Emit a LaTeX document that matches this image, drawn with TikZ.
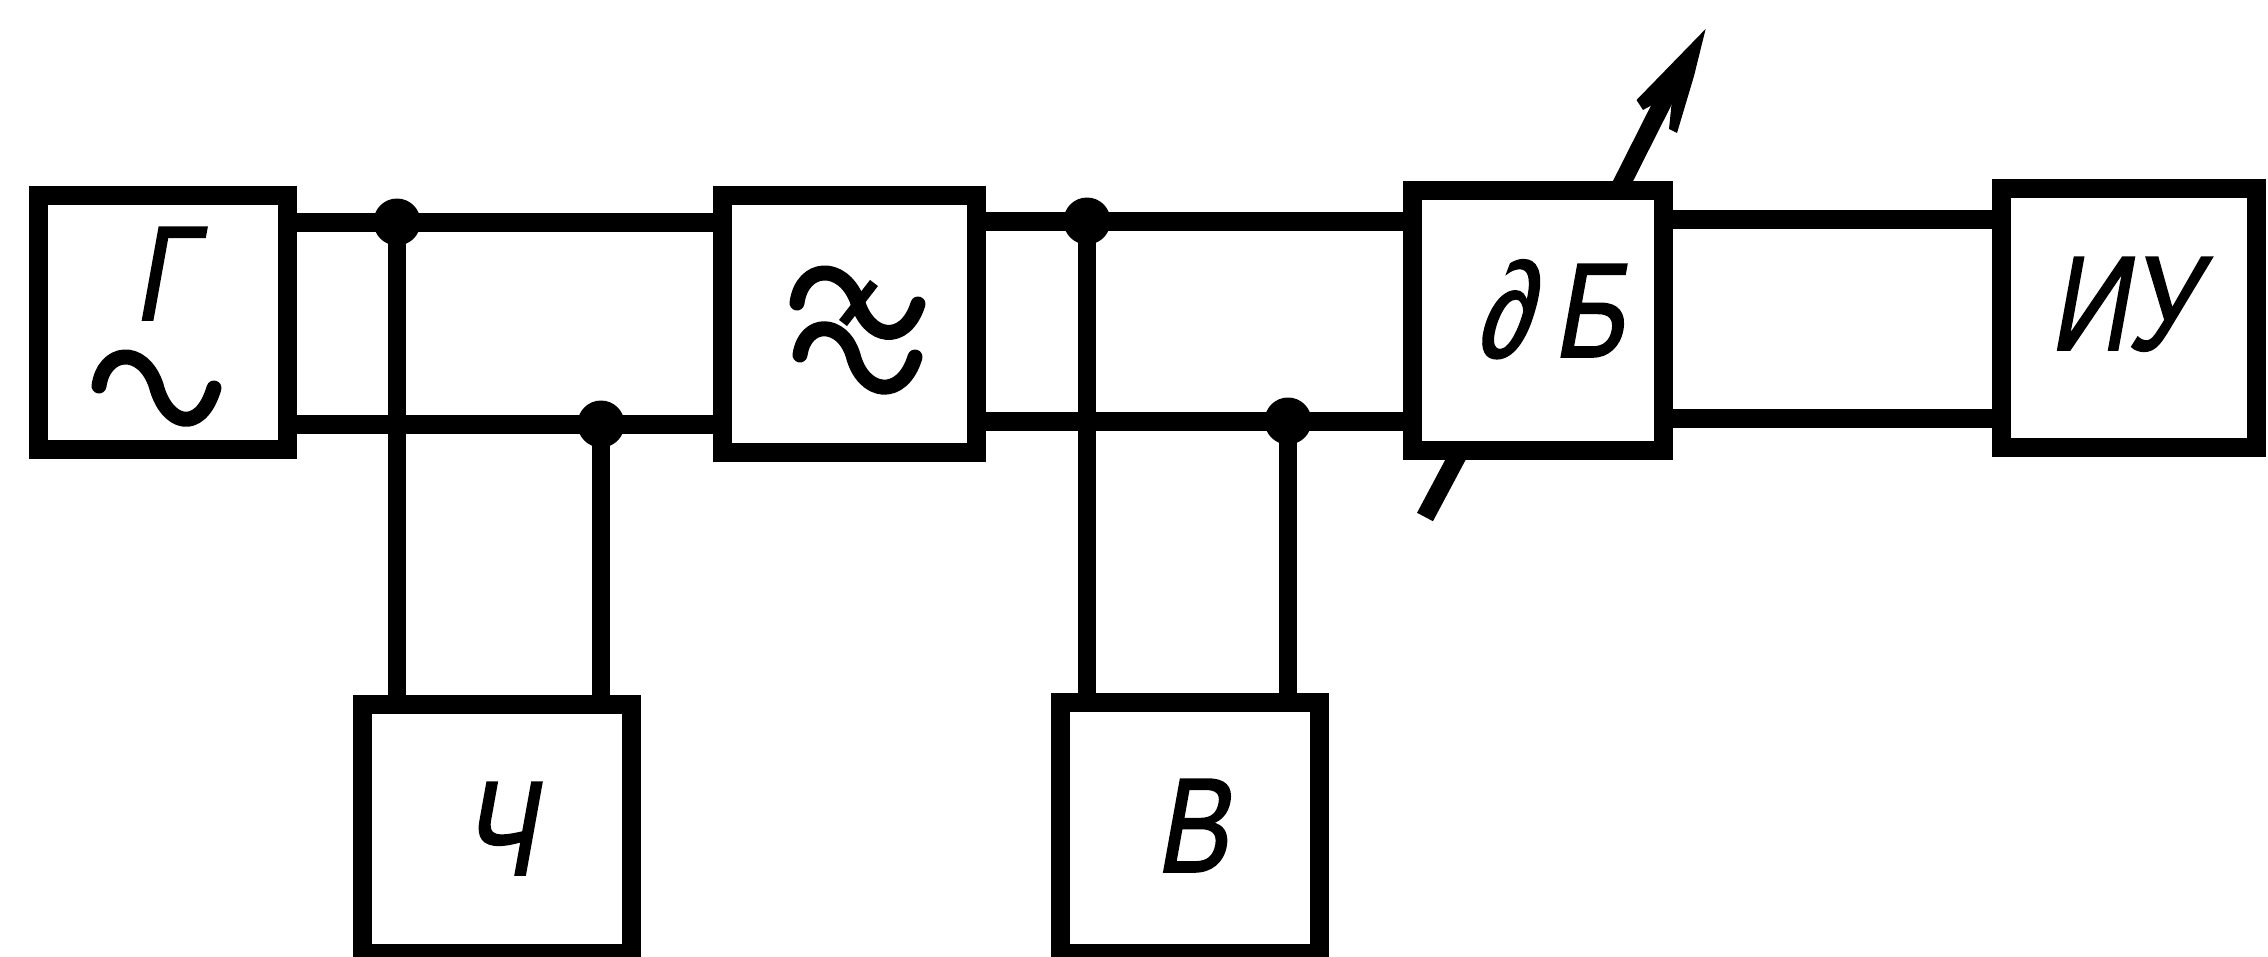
\documentclass[tikz,border=0pt]{standalone}
\usepackage{fontspec}
\newfontfamily\gost[FakeSlant=0.18,FakeStretch=0.8,FakeBold=1.2]{Liberation Sans}
\tikzset{
  blockbox/.style={draw=black,fill=white,line width=19pt,inner sep=0pt,minimum width=#1},
  wire/.style={line width=19pt,draw=black},
  stem/.style={line width=18pt,draw=black},
  dotnode/.style={circle,fill=black,draw=none,minimum size=47pt,inner sep=0pt},
  lab/.style={anchor=base,inner sep=0pt,font=\gost\fontsize{135}{135}\selectfont},
  wave/.style={line width=15pt,draw=black,line cap=round,line join=round},
}
\begin{document}
\begin{tikzpicture}[x=1pt,y=-1pt]
\useasboundingbox (0,0) rectangle (2268,956);
% junctions
\coordinate (j1) at (397,222);
\coordinate (j2) at (601,424);
\coordinate (j3) at (1087,221);
\coordinate (j4) at (1288,421);
% blocks
\node[blockbox=249pt,minimum height=254pt] (G) at (162.5,322) {};
\node[blockbox=254pt,minimum height=257pt] (F) at (849,323.5) {};
\node[blockbox=251pt,minimum height=260pt] (D) at (1537.5,320) {};
\node[blockbox=255pt,minimum height=259pt] (I) at (2128.5,317.5) {};
\node[blockbox=269pt,minimum height=249pt] (C) at (496.5,829) {};
\node[blockbox=259pt,minimum height=251pt] (V) at (1189.5,828) {};
% connectors
\draw[wire] (G.east |- j1) -- (j1) -- (F.west |- j1);
\draw[wire] (G.east |- j2) -- (j2) -- (F.west |- j2);
\draw[wire] (F.east |- j3) -- (j3) -- (D.west |- j3);
\draw[wire] (F.east |- j4) -- (j4) -- (D.west |- j4);
\coordinate (k1) at (D.east |- 0,219);
\coordinate (k2) at (D.east |- 0,418);
\draw[wire] (k1) -- (I.west |- k1);
\draw[wire] (k2) -- (I.west |- k2);
\draw[stem] (j1) -- (j1 |- C.north);
\draw[stem] (j2) -- (j2 |- C.north);
\draw[stem] (j3) -- (j3 |- V.north);
\draw[stem] (j4) -- (j4 |- V.north);
\node[dotnode] (d1) at (j1) {};
\node[dotnode] (d2) at (j2) {};
\node[dotnode] (d3) at (j3) {};
\node[dotnode] (d4) at (j4) {};
% variable-attenuator arrow
\coordinate (tail) at (1425,517);
\coordinate (bot) at (1458,455);
\coordinate (top) at (1621,185);
\coordinate (neck) at (1680,68);
\draw[line width=18pt,draw=black] (tail) -- (bot);
\draw[line width=18pt,draw=black] (top) -- (neck);
\fill[black] (1705.6,29) -- (1636.5,100) -- (1643,110) -- (1657.5,102) -- (1671.6,103.5)
  -- (1669,129) -- (1677,133) -- (1694,76) -- cycle;
% labels
\node[lab] (tG) at (163,320) {Г};
\node[lab] (tC) at (498,875) {Ч};
\node[lab] (tV) at (1191,872) {В};
\node[lab] (tD) at (1550,357) {∂\,Б};
\node[lab] (tI) at (2122,350) {ИУ};
% tilde in the generator
\draw[wave] (99,386) .. controls (104,350) and (142,345) .. (156,385)
  .. controls (166,425) and (200,435) .. (214,388);
% filter symbol
\draw[wave] (797,303) .. controls (802,265) and (842,262) .. (857,300)
  .. controls (868,340) and (905,345) .. (918,304);
\draw[wave] (800,355) .. controls (805,320) and (842,320) .. (853,355)
  .. controls (863,395) and (902,400) .. (915,357);
\draw[line width=10pt,draw=black] (874,283) -- (843,323);
\end{tikzpicture}
\end{document}
